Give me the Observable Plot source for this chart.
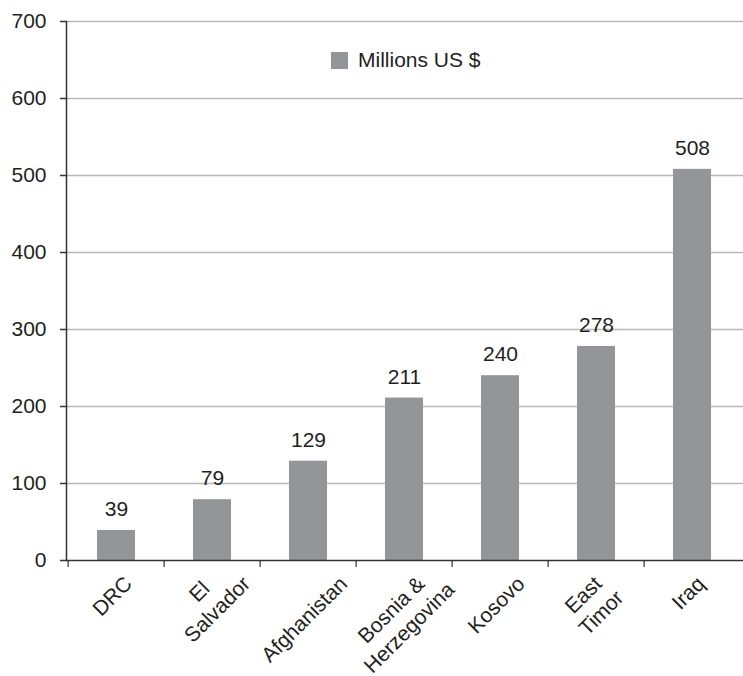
<!DOCTYPE html>
<html><head><meta charset="utf-8">
<script src="https://cdn.jsdelivr.net/npm/d3@7"></script>
<script src="https://cdn.jsdelivr.net/npm/@observablehq/plot@0.6"></script>
<style>
body{margin:0;background:#fff;font-family:"Liberation Sans",Arial,sans-serif;}
#wrap{position:relative;width:743px;height:676px;}
#legend{position:absolute;left:331px;top:48px;display:flex;align-items:center;font-size:21px;line-height:24px;color:#231f20;}
#legend .sw{display:inline-block;width:17px;height:17px;background:#939598;margin-right:10px;}
</style></head><body>
<div id="wrap"><div id="legend"><span class="sw"></span><span id="legtext"></span></div></div>
<script>
const countries = ["DRC", "El Salvador", "Afghanistan", "Bosnia & Herzegovina", "Kosovo", "East Timor", "Iraq"];
const tickLabels = ["DRC", "El\nSalvador", "Afghanistan", "Bosnia &\nHerzegovina", "Kosovo", "East\nTimor", "Iraq"];
const values = [39, 79, 129, 211, 240, 278, 508];
const yTicks = [0, 100, 200, 300, 400, 500, 600, 700];
const seriesName = "Millions US $";

document.getElementById("legtext").textContent = seriesName;

const data = countries.map((c, i) => ({country: c, value: values[i], label: tickLabels[i], y0: 0}));

const W = 743, H = 676, mL = 66, mR = 0, mT = 21, mB = 116;
const step = (W - mL - mR) / countries.length;
const fs = 21, lhEm = 1.2, lh = fs * lhEm;
const ctx = document.createElement("canvas").getContext("2d");
ctx.font = `${fs}px 'Liberation Sans'`;
function extent(label) {
  const lines = label.split("\n");
  const Hb = lines.length * lh;
  let m = -Infinity;
  lines.forEach((l, i) => {
    const w = ctx.measureText(l).width;
    m = Math.max(m, 0.7071 * (w / 2 + Hb / 2 - i * lh));
  });
  return m;
}
const topGap = 10;
const labelMarks = data.map(d => Plot.text([d], {
  x: "country", y: "y0", text: "label",
  dy: topGap + extent(d.label), dx: -5,
  rotate: -45, textAnchor: "middle", lineAnchor: "middle", lineHeight: lhEm,
  fontSize: fs, fill: "#231f20"
}));

const chart = Plot.plot({
  width: W, height: H,
  marginLeft: mL, marginRight: mR, marginTop: mT, marginBottom: mB,
  style: {fontFamily: "'Liberation Sans', Arial, sans-serif", background: "#fff", overflow: "visible"},
  x: {domain: countries, paddingInner: 0.6, paddingOuter: 0.3},
  y: {domain: [0, 700], label: null},
  marks: [
    Plot.gridY(yTicks.filter(v => v > 0), {stroke: "#b8b8b8", strokeOpacity: 1, strokeWidth: 1.5}),
    Plot.barY(data, {x: "country", y: "value", fill: "#939598"}),
    Plot.text(data, {x: "country", y: "value", text: d => String(d.value), dy: -21, fontSize: fs, fill: "#231f20"}),
    Plot.ruleY([0], {stroke: "#333", strokeWidth: 1.5}),
    Plot.frame({anchor: "left", stroke: "#333", strokeWidth: 1.5}),
    Plot.axisY({ticks: yTicks, tickSize: 6, tickPadding: 14, fontSize: fs, fill: "#231f20", stroke: "#333", strokeWidth: 1.5, label: null}),
    Plot.axisX({tickSize: 7, text: null, dx: -step / 2, stroke: "#333", strokeWidth: 1.2, label: null}),
    ...labelMarks
  ]
});
document.getElementById("wrap").prepend(chart);
</script>
</body></html>
